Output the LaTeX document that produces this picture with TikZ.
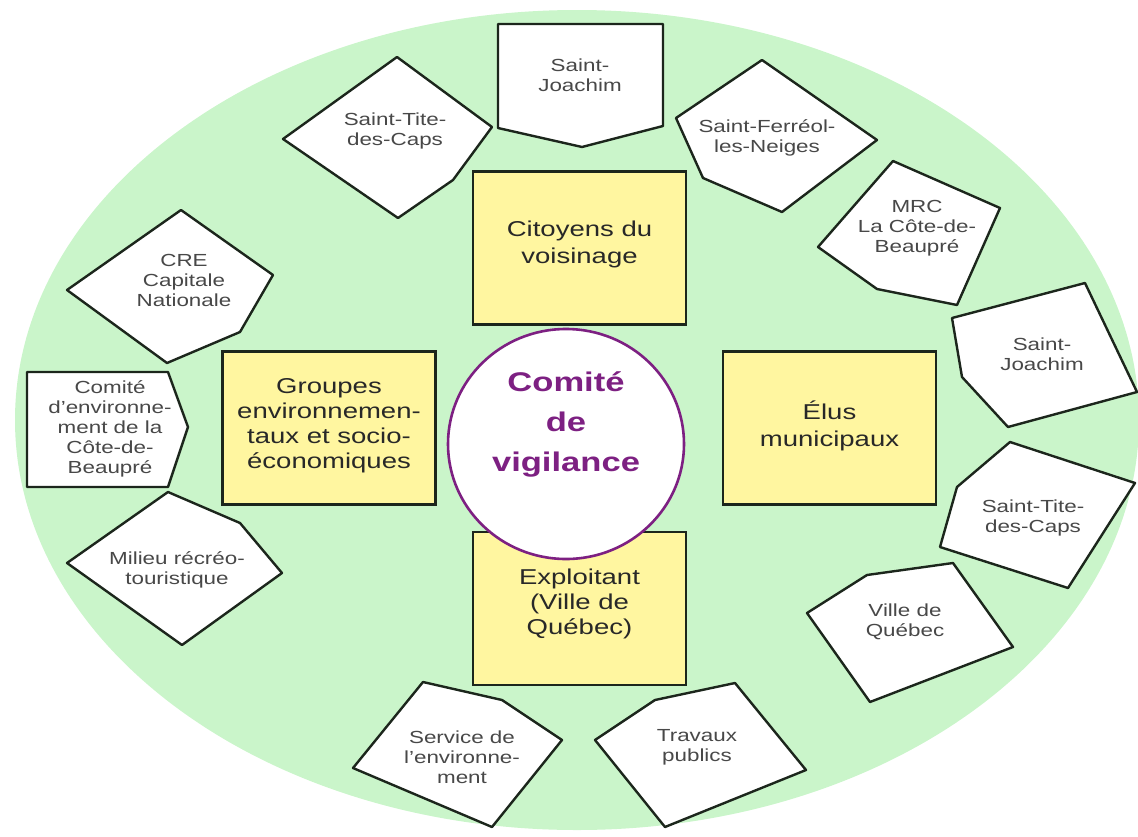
\documentclass[tikz,border=0pt]{standalone}
\usepackage{fontspec}
\setmainfont{Liberation Sans}[FakeStretch=1.28]
\definecolor{bggreen}{RGB}{202,245,202}
\definecolor{boxyellow}{RGB}{255,246,160}
\definecolor{edgecol}{RGB}{28,38,28}
\definecolor{labelgray}{RGB}{72,72,72}
\definecolor{boxtext}{RGB}{40,40,40}
\definecolor{vpurple}{RGB}{125,32,130}
\tikzset{
  penta/.style={draw=edgecol, fill=white, line width=2.4pt, line join=round},
  smalllabel/.style={align=center, text=labelgray, font=\fontsize{17.5}{20}\selectfont, inner sep=0pt},
  ybox/.style={draw=edgecol, fill=boxyellow, line width=2.6pt, minimum width=213pt, minimum height=153pt, inner sep=0pt},
  boxlabel/.style={align=center, text=boxtext, font=\fontsize{21.5}{25}\selectfont, inner sep=0pt},
}
\begin{document}
\begin{tikzpicture}[x=1pt,y=-1pt]
\useasboundingbox (0,0) rectangle (1138,836);
\fill[bggreen] (577,420) ellipse [x radius=562, y radius=410];

% yellow boxes
\node[ybox] (citbox) at (579.5,248) {};
\node[boxlabel] (cit) at (579.5,244) {Citoyens du\\[2pt]voisinage};
\node[ybox] (grpbox) at (329,428) {};
\node[boxlabel] (grp) at (329,426) {Groupes\\environnemen-\\taux et socio-\\économiques};
\node[ybox] (elubox) at (829.5,428) {};
\node[boxlabel] (elu) at (829.5,426) {Élus\\[2pt]municipaux};
\node[ybox] (expbox) at (579.5,608.5) {};
\node[boxlabel] (exp) at (579.5,604) {Exploitant\\(Ville de\\Québec)};

% central circle
\draw[draw=vpurple, fill=white, line width=2.6pt] (566,444) ellipse [x radius=118, y radius=115];
\node[align=center, text=vpurple, font=\fontsize{27}{40}\selectfont\bfseries, inner sep=0pt] (cv) at (566,424) {Comité\\de\\vigilance};

% pentagons
\draw[penta] (498,24) -- (663,24) -- (663,126) -- (582,147) -- (498,128) -- cycle;
\node[smalllabel] (sj1) at (580,75) {Saint-\\Joachim};

\draw[penta] (283,139) -- (397,57) -- (492,127) -- (453,180) -- (398,218) -- cycle;
\node[smalllabel] (st1) at (395,131) {Saint-Tite-\\des-Caps};

\draw[penta] (676,118) -- (762,60) -- (877,140) -- (782,212) -- (703,178) -- cycle;
\node[smalllabel] (sf) at (767,138) {Saint-Ferréol-\\les-Neiges};

\draw[penta] (818,247) -- (893,161) -- (1000,208) -- (957,305) -- (877,289) -- cycle;
\node[smalllabel] (mrc) at (917,228) {MRC\\La Côte-de-\\Beaupré};

\draw[penta] (67,290) -- (181,210) -- (273,275) -- (240,332) -- (167,363) -- cycle;
\node[smalllabel] (cre) at (184,280) {CRE\\Capitale\\Nationale};

\draw[penta] (27,372) -- (168,372) -- (188,427) -- (168,487) -- (27,487) -- cycle;
\node[smalllabel] (cecb) at (110,429) {Comité\\d’environne-\\ment de la\\Côte-de-\\Beaupré};

\draw[penta] (67,563) -- (168,492) -- (240,523) -- (282,573) -- (182,645) -- cycle;
\node[smalllabel] (mrt) at (177,570) {Milieu récréo-\\touristique};

\draw[penta] (952,318) -- (1085,283) -- (1137,392) -- (1008,427) -- (962,377) -- cycle;
\node[smalllabel] (sj2) at (1042,354) {Saint-\\Joachim};

\draw[penta] (957,487) -- (1010,442) -- (1135,483) -- (1068,588) -- (940,547) -- cycle;
\node[smalllabel] (st2) at (1033,518) {Saint-Tite-\\des-Caps};

\draw[penta] (807,613) -- (867,575) -- (953,563) -- (1013,647) -- (870,702) -- cycle;
\node[smalllabel] (vq) at (905,622) {Ville de\\Québec};

\draw[penta] (353,768) -- (423,682) -- (502,700) -- (562,740) -- (492,827) -- cycle;
\node[smalllabel] (se) at (462,757) {Service de\\l’environne-\\ment};

\draw[penta] (595,740) -- (655,700) -- (735,683) -- (806,770) -- (665,827) -- cycle;
\node[smalllabel] (tp) at (697,747) {Travaux\\publics};
\end{tikzpicture}
\end{document}
